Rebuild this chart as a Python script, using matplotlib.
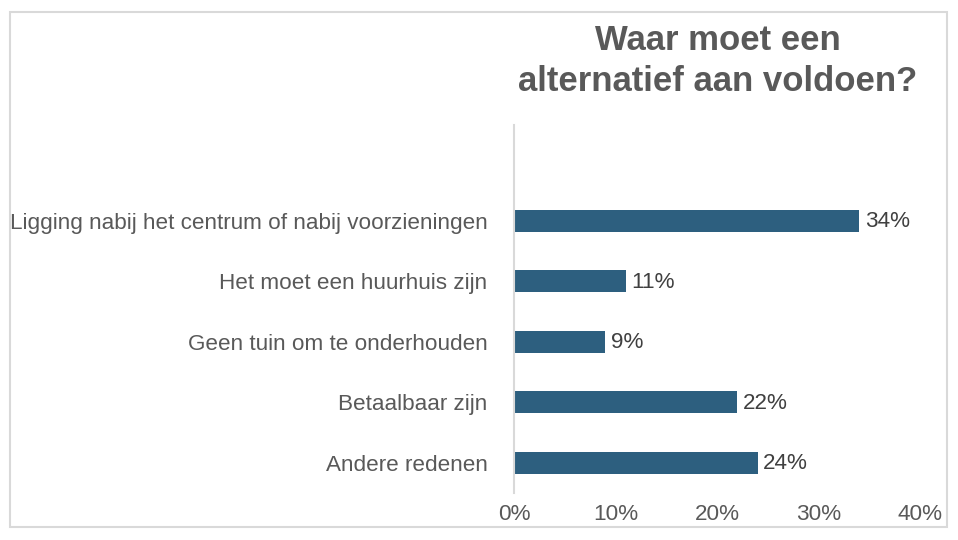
import matplotlib.pyplot as plt
from matplotlib.patches import Rectangle
from matplotlib.ticker import PercentFormatter

plt.rcParams['font.family'] = ['Liberation Sans', 'DejaVu Sans']

# categories from top to bottom as in the picture
categories = [
    "Ligging nabij het centrum of nabij voorzieningen",
    "Het moet een huurhuis zijn",
    "Geen tuin om te onderhouden",
    "Betaalbaar zijn",
    "Andere redenen",
]
values = [34, 11, 9, 22, 24]
x_ticks = [0, 10, 20, 30, 40]
title = "Waar moet een\nalternatief aan voldoen?"

BAR_COLOR = '#2d5f7f'
TEXT_COLOR = '#595959'

fig = plt.figure(figsize=(9.58, 5.40), dpi=100)
ax = fig.add_axes([514 / 958, 47 / 540, 406 / 958, 368 / 540])

# bottom category at y=0
ys = list(range(len(categories)))[::-1]
ax.barh(ys, values, height=0.36, color=BAR_COLOR)

for y, v in zip(ys, values):
    ax.text(v + 0.55, y - 0.02, f"{v}%", va='center', ha='left',
            fontsize=16.2, color='#404040')

ax.set_xlim(0, 40)
ax.set_ylim(-0.5, 5.58)
ax.set_xticks(x_ticks)
ax.xaxis.set_major_formatter(PercentFormatter(decimals=0))
ax.set_yticks(ys)
ax.set_yticklabels(categories)
ax.tick_params(axis='both', length=0, labelsize=16.2, labelcolor=TEXT_COLOR)
ax.tick_params(axis='y', pad=19)
ax.tick_params(axis='x', pad=8)

for s in ['top', 'right', 'bottom']:
    ax.spines[s].set_visible(False)
ax.spines['left'].set_color('#d9d9d9')
ax.spines['left'].set_linewidth(1.5)

fig.text(718 / 958, 1 - 61 / 540, title, ha='center', va='center',
         fontsize=25, fontweight='bold', color=TEXT_COLOR, linespacing=1.27)

# outer border of the chart
fig.patches.append(Rectangle((10 / 958, 13 / 540), 937 / 958, 515 / 540,
                             transform=fig.transFigure, fill=False,
                             edgecolor='#d9d9d9', linewidth=1.5))

fig.savefig('out.png', dpi=100)
